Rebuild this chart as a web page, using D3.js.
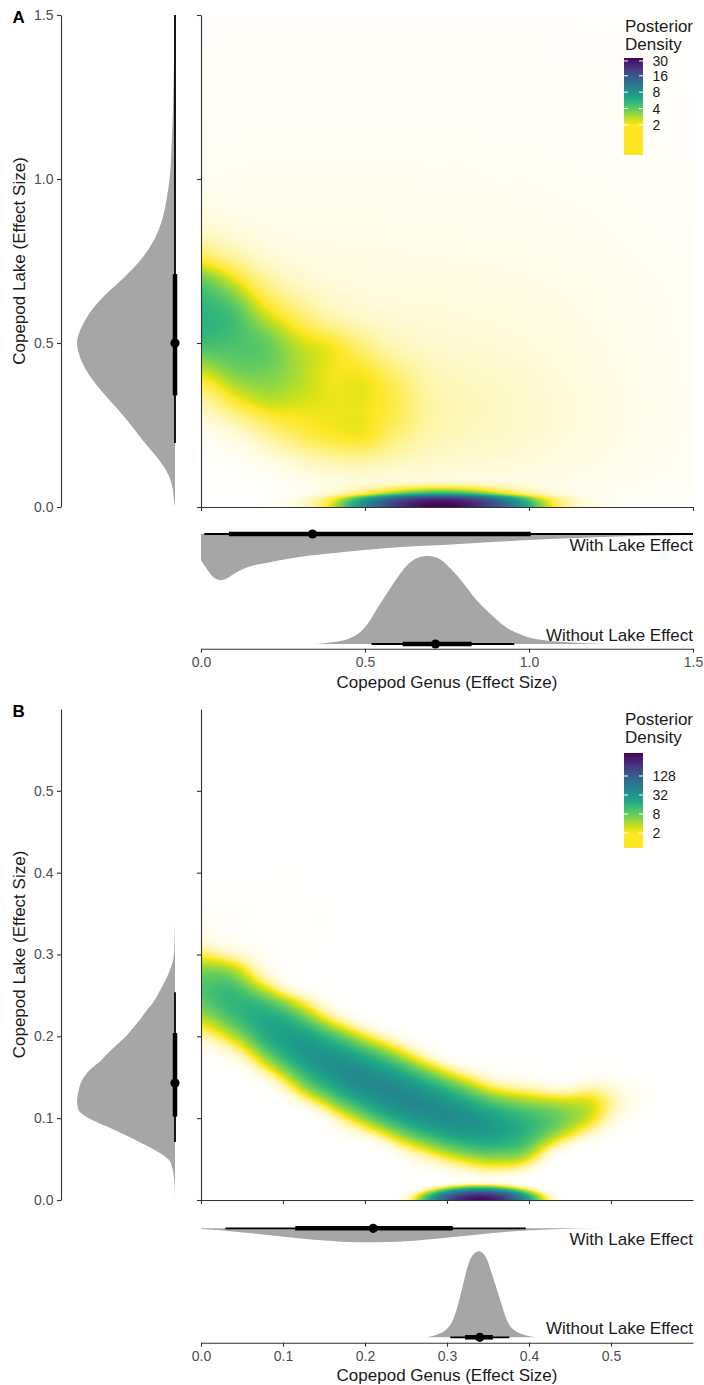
<!DOCTYPE html>
<html>
<head>
<meta charset="utf-8">
<script src="https://cdn.jsdelivr.net/npm/d3@7"></script>
<style>
body { margin: 0; background: #fff; }
text { font-family: "Liberation Sans", Arial, Helvetica, sans-serif; }
</style>
</head>
<body>
<svg id="chart" width="704" height="1385"></svg>
<script>
// ---------- panel A values ----------
const axisTicksA = [0, 0.5, 1.0, 1.5];
const legendTicksA = [2, 4, 8, 16, 30];

// joint posterior density, columns = genus, rows = lake (top row first)
const gridGenusA = [0, 0.1, 0.2, 0.3, 0.4, 0.5, 0.6, 0.7, 0.8, 0.9, 1.0, 1.1, 1.2, 1.3, 1.4, 1.5];
const gridLakeA = [1.5, 1.4, 1.3, 1.2, 1.1, 1.0, 0.9, 0.8, 0.7, 0.6, 0.5, 0.4, 0.3, 0.2, 0.1, 0.0];
const densityA = [
  [.05, .05, .05, .05, .05, .05, .05, .05, .05, .05, .05, .05, .04, .04, .04, .03],
  [.05, .06, .06, .06, .06, .06, .06, .06, .06, .06, .06, .05, .05, .05, .04, .04],
  [.06, .07, .07, .07, .07, .07, .07, .07, .07, .07, .07, .06, .06, .05, .05, .04],
  [.07, .08, .09, .09, .09, .09, .09, .09, .09, .08, .08, .07, .07, .06, .05, .05],
  [.09, .10, .11, .11, .11, .11, .11, .11, .11, .10, .10, .09, .08, .07, .06, .05],
  [.13, .13, .14, .14, .14, .14, .14, .13, .13, .12, .12, .11, .10, .08, .07, .06],
  [.25, .20, .18, .18, .18, .18, .17, .17, .16, .15, .14, .13, .12, .10, .08, .07],
  [.90, .55, .30, .24, .22, .22, .21, .20, .19, .18, .17, .15, .14, .12, .10, .08],
  [3.6, 2.1, .90, .45, .32, .28, .27, .26, .25, .24, .22, .20, .17, .14, .12, .10],
  [5.4, 4.4, 2.2, 1.2, .60, .42, .36, .34, .32, .30, .27, .24, .20, .16, .13, .10],
  [4.8, 4.5, 3.9, 2.5, 1.9, 1.1, .60, .45, .40, .37, .33, .28, .23, .18, .14, .11],
  [2.2, 3.3, 3.5, 2.8, 2.1, 2.05, 1.3, .70, .55, .48, .40, .33, .26, .20, .15, .11],
  [.60, 1.4, 2.2, 2.2, 2.15, 2.1, 1.6, .85, .65, .55, .45, .36, .28, .21, .16, .12],
  [.10, .25, .70, 1.3, 1.7, 1.8, 1.1, .70, .55, .48, .40, .33, .26, .20, .15, .11],
  [.02, .04, .10, .25, .40, .45, .40, .35, .32, .30, .27, .23, .19, .15, .12, .09],
  [.01, .01, .02, .04, .08, .12, .14, .14, .14, .13, .12, .10, .09, .08, .06, .05]
];
// no-lake-effect model: mass sitting on lake = 0
const stripGenusA = [.15, .20, .25, .30, .35, .40, .45, .50, .55, .60, .65, .70, .75, .80, .85, .90, .95, 1.0, 1.05, 1.10, 1.15, 1.20, 1.25, 1.30];
const stripPeakA = [.007, .035, .12, .37, .99, 2.35, 5.0, 9.3, 15.4, 22.5, 29.1, 33.3, 33.7, 30.2, 23.9, 16.8, 10.4, 5.7, 2.76, 1.19, .45, .15, .045, .01];
const stripOffsetA = [0, .01, .02, .03, .04, .05, .06, .07, .08];
const stripShapeA = [1, .94, .79, .50, .18, .09, .045, .015, .004];

// marginal of lake effect
const lakeValuesA = [0, .02, .05, .1, .15, .2, .25, .3, .35, .4, .45, .5, .55, .6, .65, .7, .75, .8, .85, .9, .95, 1.0, 1.1, 1.2, 1.3, 1.4, 1.5];
const lakeDensityA = [0, .01, .02, .07, .18, .32, .45, .59, .74, .87, .96, 1.0, .95, .85, .70, .52, .36, .24, .16, .11, .08, .055, .035, .022, .014, .008, .004];
const lakeIntervalA = [0.195, 0.34, 0.50, 0.71, 1.5];

// marginals of genus effect
const withGenusA = [0, .02, .04, .06, .08, .10, .12, .15, .20, .25, .30, .40, .50, .60, .70, .80, .90, 1.0, 1.1, 1.2, 1.3, 1.4, 1.5];
const withDensityA = [.57, .78, .95, 1.0, .96, .87, .79, .70, .63, .56, .50, .42, .35, .29, .25, .21, .17, .13, .10, .07, .05, .035, .02];
const withIntervalA = [0.01, 0.085, 0.34, 1.005, 1.5];
const withoutGenusA = [.35, .40, .45, .48, .51, .54, .58, .62, .66, .69, .72, .76, .80, .84, .88, .93, .98, 1.04, 1.13, 1.24];
const withoutDensityA = [0, .02, .06, .12, .24, .42, .65, .86, .98, 1.0, .98, .86, .69, .50, .35, .19, .10, .045, .017, 0];
const withoutIntervalA = [0.52, 0.615, 0.715, 0.825, 0.955];

// ---------- panel B values ----------
const axisTicksB = [0, 0.1, 0.2, 0.3, 0.4, 0.5];
const legendTicksB = [2, 8, 32, 128];

const gridGenusB = [0, .04, .08, .12, .16, .20, .24, .28, .32, .36, .40, .44, .48, .52, .56, .60];
const gridLakeB = [.60, .56, .52, .48, .44, .40, .36, .32, .28, .24, .20, .16, .12, .08, .04, 0];
const densityB = [
  [0, 0, 0, 0, 0, 0, 0, 0, 0, 0, 0, 0, 0, 0, 0, 0],
  [0, 0, 0, 0, 0, 0, 0, 0, 0, 0, 0, 0, 0, 0, 0, 0],
  [0, 0, 0, 0, 0, 0, 0, 0, 0, 0, 0, 0, 0, 0, 0, 0],
  [0, 0, 0, 0, 0, 0, 0, 0, 0, 0, 0, 0, 0, 0, 0, 0],
  [0, 0, 0, 0, 0, 0, 0, 0, 0, 0, 0, 0, 0, 0, 0, 0],
  [.01, .01, .01, .01, 0, 0, 0, 0, 0, 0, 0, 0, 0, 0, 0, 0],
  [.04, .04, .04, .03, .02, 0, 0, 0, 0, 0, 0, 0, 0, 0, 0, 0],
  [.30, .09, .04, .03, .02, 0, 0, 0, 0, 0, 0, 0, 0, 0, 0, 0],
  [6.4, 4.2, .35, .012, .002, 0, 0, 0, 0, 0, 0, 0, 0, 0, 0, 0],
  [8.2, 15, 11.2, 2.43, .16, .005, 0, 0, 0, 0, 0, 0, 0, 0, 0, 0],
  [.72, 3.7, 18.8, 26.2, 11.5, 2.24, .26, .012, 0, 0, 0, 0, 0, 0, 0, 0],
  [.004, .056, 1.65, 14.5, 37.1, 36, 16.5, 3.8, .49, .071, .031, .0088, .04, .019, .001, 0],
  [0, 0, .0076, .41, 5.3, 22.1, 43, 41, 22, 8.7, 4.8, 3.3, 2.3, .3, .02, 0],
  [0, 0, 0, 0, .033, .51, 4.6, 14.9, 26.3, 24.5, 13.2, 3.3, .41, .019, .001, 0],
  [0, 0, 0, 0, 0, 0, .02, .18, .84, 1.6, .64, .0088, 0, 0, 0, 0],
  [0, 0, 0, 0, 0, 0, 0, 0, .0007, .0024, 0, 0, 0, 0, 0, 0]
];
const stripGenusB = [.23, .24, .25, .26, .27, .28, .29, .30, .31, .32, .33, .34, .35, .36, .37, .38, .39, .40, .41, .42, .43, .44, .45];
const stripPeakB = [.02, .1, .45, 2, 7.7, 24, 65, 145, 270, 420, 550, 600, 550, 420, 270, 145, 65, 24, 7.7, 2, .45, .1, .02];
const stripOffsetB = [0, .003, .006, .009, .012, .015, .018, .021, .024];
const stripShapeB = [1, .86, .54, .25, .085, .021, .004, .0005, .0001];

const lakeValuesB = [0, .02, .04, .05, .06, .07, .08, .09, .10, .11, .12, .13, .14, .15, .16, .17, .18, .19, .20, .21, .22, .23, .24, .25, .26, .27, .28, .29, .30, .32, .34];
const lakeDensityB = [0, .005, .03, .07, .19, .35, .52, .70, .88, .985, 1.0, .99, .97, .93, .86, .76, .68, .59, .50, .43, .36, .30, .23, .18, .135, .09, .055, .025, .01, .004, 0];
const lakeIntervalB = [0.071, 0.102, 0.143, 0.204, 0.254];

const withGenusB = [0, .03, .07, .11, .15, .19, .23, .27, .31, .35, .39, .43, .49];
const withDensityB = [.05, .18, .41, .66, .88, 1.0, .98, .84, .61, .37, .17, .06, 0];
const withIntervalB = [0.03, 0.115, 0.21, 0.307, 0.396];
const withoutGenusB = [.273, .287, .30, .308, .314, .32, .328, .339, .348, .356, .365, .373, .385, .408];
const withoutDensityB = [0, .03, .10, .22, .40, .63, .90, 1.0, .92, .70, .43, .20, .065, 0];
const withoutIntervalB = [0.304, 0.322, 0.34, 0.356, 0.376];

// ---------- drawing ----------
const svg = d3.select("#chart");
const defs = svg.append("defs");
const grey = "#a6a6a6";
const axisColor = "#333";

const viridis = d3.range(256).map(i => d3.rgb(d3.interpolateViridis(i / 255)));
function colorOf(v, hi) {
  if (v < 2) {
    const c = viridis[255];
    return [c.r, c.g, c.b, Math.round(255 * Math.max(0, v) / 2)];
  }
  const t = Math.min(1, Math.log(v / 2) / Math.log(hi / 2));
  const c = viridis[Math.round((1 - t) * 255)];
  return [c.r, c.g, c.b, 255];
}

// catmull-rom on log density
function cr(p0, p1, p2, p3, t) {
  return p1 + 0.5 * t * (p2 - p0 + t * (2 * p0 - 5 * p1 + 4 * p2 - p3 + t * (3 * (p1 - p2) + p3 - p0)));
}
const lg = v => Math.log(Math.max(v, 1e-4));

function gridSampler(xs, ys, rows) {
  const L = rows.map(r => r.map(lg));
  const nx = xs.length, ny = ys.length;
  const ix = d3.scaleLinear().domain([xs[0], xs[nx - 1]]).range([0, nx - 1]).clamp(true);
  const iy = d3.scaleLinear().domain([ys[0], ys[ny - 1]]).range([0, ny - 1]).clamp(true);
  const cx = i => Math.max(0, Math.min(nx - 1, i));
  const cy = j => Math.max(0, Math.min(ny - 1, j));
  return (x, y) => {
    const fx = ix(x), fy = iy(y);
    const i = Math.min(nx - 2, Math.floor(fx)), j = Math.min(ny - 2, Math.floor(fy));
    const tx = fx - i, ty = fy - j;
    const r = [];
    for (let k = -1; k <= 2; k++) {
      const row = L[cy(j + k)];
      r.push(cr(row[cx(i - 1)], row[i], row[i + 1], row[cx(i + 2)], tx));
    }
    return Math.exp(cr(r[0], r[1], r[2], r[3], ty));
  };
}

function lineSampler(xs, vs) {
  const L = vs.map(lg), n = xs.length;
  const ix = d3.scaleLinear().domain([xs[0], xs[n - 1]]).range([0, n - 1]);
  const c = k => L[Math.max(0, Math.min(n - 1, k))];
  return x => {
    const f = ix(x);
    if (f < 0 || f > n - 1) return 0;
    const i = Math.min(n - 2, Math.floor(f)), t = f - i;
    return Math.exp(cr(c(i - 1), c(i), c(i + 1), c(i + 2), t));
  };
}

function drawInterval(g, vals, at, scale, vertical) {
  const [lo95, lo66, mid, hi66, hi95] = vals;
  const seg = (a, b, w) => {
    const l = g.append("line").attr("stroke", "#000").attr("stroke-width", w);
    if (vertical) l.attr("x1", at).attr("x2", at).attr("y1", scale(a)).attr("y2", scale(b));
    else l.attr("y1", at).attr("y2", at).attr("x1", scale(a)).attr("x2", scale(b));
  };
  seg(lo95, hi95, 1.8);
  seg(lo66, hi66, 4.5);
  g.append("circle")
    .attr("cx", vertical ? at : scale(mid))
    .attr("cy", vertical ? scale(mid) : at)
    .attr("r", 4.6)
    .attr("fill", "#000");
}

function styleAxis(sel, labelled) {
  sel.selectAll(".domain").attr("stroke", axisColor).attr("stroke-width", 1.1);
  sel.selectAll(".tick line").attr("stroke", axisColor).attr("stroke-width", 1.1);
  sel.selectAll("text")
    .attr("font-size", labelled ? 14 : 0)
    .attr("fill", "#4d4d4d")
    .style("font-family", "'Liberation Sans', Arial, sans-serif");
}

function drawPanel(p) {
  const g = svg.append("g");
  const x = d3.scaleLinear().domain([0, p.max]).range([201, 693]);
  const y = d3.scaleLinear().domain([0, p.max]).range([p.bottom, p.top]);

  // joint density raster
  const W = 492, H = Math.round(p.bottom - p.top);
  const joint = gridSampler(p.gridX, p.gridY, p.grid);
  const stripX = lineSampler(p.stripX, p.stripPeak);
  const stripY = lineSampler(p.stripOff, p.stripShape);
  const canvas = document.createElement("canvas");
  canvas.width = W;
  canvas.height = H;
  const ctx = canvas.getContext("2d");
  const img = ctx.createImageData(W, H);
  for (let py = 0; py < H; py++) {
    const ly = y.invert(p.top + py + 0.5);
    const sy = stripY(ly);
    for (let px = 0; px < W; px++) {
      const gx = x.invert(201 + px + 0.5);
      const v = joint(gx, ly) + stripX(gx) * sy;
      const c = colorOf(v, p.hi);
      const o = 4 * (py * W + px);
      img.data[o] = c[0]; img.data[o + 1] = c[1]; img.data[o + 2] = c[2]; img.data[o + 3] = c[3];
    }
  }
  ctx.putImageData(img, 0, 0);
  g.append("image")
    .attr("x", 201).attr("y", p.top)
    .attr("width", W).attr("height", H)
    .attr("preserveAspectRatio", "none")
    .attr("href", canvas.toDataURL());

  // lake marginal (left)
  const w = d3.scaleLinear().domain([0, 1]).range([175, 77]);
  const lakeArea = d3.area()
    .curve(d3.curveMonotoneY)
    .y(d => y(d[0]))
    .x0(175)
    .x1(d => w(d[1]));
  g.append("path")
    .datum(d3.zip(p.lakeValues, p.lakeDensity))
    .attr("fill", grey)
    .attr("d", lakeArea);
  drawInterval(g, p.lakeInterval, 175, y, true);

  // genus marginals (below)
  const withArea = d3.area()
    .curve(d3.curveMonotoneX)
    .x(d => x(d[0]))
    .y0(p.withBase)
    .y1(d => p.withBase + d[1] * p.withDepth);
  g.append("path")
    .datum(d3.zip(p.withGenus, p.withDensity))
    .attr("fill", grey)
    .attr("d", withArea);
  drawInterval(g, p.withInterval, p.withBase, x, false);

  const withoutArea = d3.area()
    .curve(d3.curveMonotoneX)
    .x(d => x(d[0]))
    .y0(p.withoutBase)
    .y1(d => p.withoutBase - d[1] * p.withoutHeight);
  g.append("path")
    .datum(d3.zip(p.withoutGenus, p.withoutDensity))
    .attr("fill", grey)
    .attr("d", withoutArea);
  drawInterval(g, p.withoutInterval, p.withoutBase, x, false);

  g.append("text").attr("x", 693).attr("y", p.withLabelY)
    .attr("text-anchor", "end").attr("font-size", 17).attr("fill", "#1a1a1a")
    .text("With Lake Effect");
  g.append("text").attr("x", 693).attr("y", p.withoutLabelY)
    .attr("text-anchor", "end").attr("font-size", 17).attr("fill", "#1a1a1a")
    .text("Without Lake Effect");

  // axes
  const fmt = d3.format(".1f");
  g.append("g").attr("transform", "translate(61,0)")
    .call(d3.axisLeft(y).tickValues(p.ticks).tickFormat(fmt).tickSize(4).tickPadding(3.5).tickSizeOuter(0))
    .call(s => styleAxis(s, true));
  g.append("g").attr("transform", "translate(201,0)")
    .call(d3.axisLeft(y).tickValues(p.ticks).tickFormat("").tickSize(4).tickSizeOuter(0))
    .call(s => styleAxis(s, false));
  g.append("g").attr("transform", `translate(0,${p.bottom})`)
    .call(d3.axisBottom(x).tickValues(p.ticks).tickFormat("").tickSize(4).tickSizeOuter(0))
    .call(s => styleAxis(s, false));
  g.append("g").attr("transform", `translate(0,${p.genusAxis})`)
    .call(d3.axisBottom(x).tickValues(p.ticks).tickFormat(fmt).tickSize(4).tickPadding(4.5).tickSizeOuter(0))
    .call(s => styleAxis(s, true));

  g.append("text")
    .attr("transform", `translate(25,${(p.top + p.bottom) / 2}) rotate(-90)`)
    .attr("text-anchor", "middle").attr("font-size", 17).attr("fill", "#1a1a1a")
    .text("Copepod Lake (Effect Size)");
  g.append("text")
    .attr("x", 447).attr("y", p.titleY)
    .attr("text-anchor", "middle").attr("font-size", 17).attr("fill", "#1a1a1a")
    .text("Copepod Genus (Effect Size)");
  g.append("text")
    .attr("x", 12.5).attr("y", p.letterY)
    .attr("font-size", 17).attr("font-weight", "bold").attr("fill", "#000")
    .text(p.letter);

  // colour bar legend
  const ls = d3.scaleLog().domain(p.legendDomain).range([p.barBottom, p.barTop]);
  const grad = defs.append("linearGradient").attr("id", "grad" + p.letter)
    .attr("x1", 0).attr("y1", 1).attr("x2", 0).attr("y2", 0);
  d3.range(0, 61).forEach(k => {
    const f = k / 60;
    const v = ls.invert(p.barBottom - f * (p.barBottom - p.barTop));
    const c = colorOf(Math.max(v, 2), p.hi);
    grad.append("stop").attr("offset", f).attr("stop-color", `rgb(${c[0]},${c[1]},${c[2]})`);
  });
  g.append("rect")
    .attr("x", 624).attr("y", p.barTop)
    .attr("width", 19).attr("height", p.barBottom - p.barTop)
    .attr("fill", `url(#grad${p.letter})`);
  p.legendTicks.forEach(t => {
    const ty = ls(t);
    g.append("line").attr("x1", 624).attr("x2", 628).attr("y1", ty).attr("y2", ty)
      .attr("stroke", "#fff").attr("stroke-width", 1);
    g.append("line").attr("x1", 639).attr("x2", 643).attr("y1", ty).attr("y2", ty)
      .attr("stroke", "#fff").attr("stroke-width", 1);
    g.append("text").attr("x", 652.5).attr("y", ty).attr("dy", "0.36em")
      .attr("font-size", 14).attr("fill", "#1a1a1a").text(t);
  });
  g.append("text").attr("x", 625).attr("y", p.legendTitleY)
    .attr("font-size", 17).attr("fill", "#1a1a1a").text("Posterior");
  g.append("text").attr("x", 625).attr("y", p.legendTitleY + 17.8)
    .attr("font-size", 17).attr("fill", "#1a1a1a").text("Density");
}

drawPanel({
  letter: "A", letterY: 22.7, max: 1.5, top: 15, bottom: 507, ticks: axisTicksA, hi: 34,
  gridX: gridGenusA, gridY: gridLakeA, grid: densityA,
  stripX: stripGenusA, stripPeak: stripPeakA, stripOff: stripOffsetA, stripShape: stripShapeA,
  lakeValues: lakeValuesA, lakeDensity: lakeDensityA, lakeInterval: lakeIntervalA,
  withGenus: withGenusA, withDensity: withDensityA, withInterval: withIntervalA,
  withBase: 534, withDepth: 46, withLabelY: 551,
  withoutGenus: withoutGenusA, withoutDensity: withoutDensityA, withoutInterval: withoutIntervalA,
  withoutBase: 644, withoutHeight: 88, withoutLabelY: 641,
  genusAxis: 648.7, titleY: 688,
  legendDomain: [0.56, 34], legendTicks: legendTicksA, barTop: 58, barBottom: 155, legendTitleY: 31.7
});

drawPanel({
  letter: "B", letterY: 716.7, max: 0.6, top: 709, bottom: 1200, ticks: axisTicksB, hi: 685,
  gridX: gridGenusB, gridY: gridLakeB, grid: densityB,
  stripX: stripGenusB, stripPeak: stripPeakB, stripOff: stripOffsetB, stripShape: stripShapeB,
  lakeValues: lakeValuesB, lakeDensity: lakeDensityB, lakeInterval: lakeIntervalB,
  withGenus: withGenusB, withDensity: withDensityB, withInterval: withIntervalB,
  withBase: 1228.3, withDepth: 14, withLabelY: 1245,
  withoutGenus: withoutGenusB, withoutDensity: withoutDensityB, withoutInterval: withoutIntervalB,
  withoutBase: 1337.3, withoutHeight: 86, withoutLabelY: 1334,
  genusAxis: 1342.7, titleY: 1381,
  legendDomain: [0.67, 685], legendTicks: legendTicksB, barTop: 753, barBottom: 848, legendTitleY: 725
});
</script>
</body>
</html>
